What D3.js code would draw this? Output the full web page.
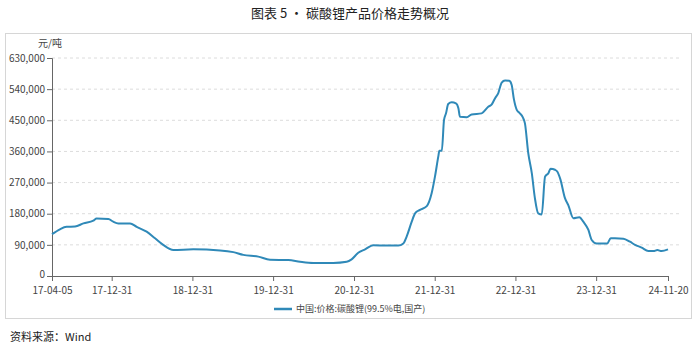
<!DOCTYPE html>
<html>
<head>
<meta charset="utf-8">
<script src="https://cdn.jsdelivr.net/npm/d3@7"></script>
<style>
  body { margin: 0; background: #fff; }
  svg text { font-family: "Noto Sans CJK SC", "Noto Sans", sans-serif; }
</style>
</head>
<body>
<script>
// price of lithium carbonate
var dates = ["2017-04-05","2017-05-11","2017-06-10","2017-07-18","2017-08-25","2017-10-09","2017-10-24","2017-12-16",
  "2018-01-07","2018-01-30","2018-03-24","2018-04-23","2018-06-07","2018-07-15","2018-08-21","2018-10-06",
  "2019-01-04","2019-05-05","2019-07-04","2019-08-18","2019-10-25","2019-12-17","2020-03-09","2020-05-01",
  "2020-06-30","2020-09-28","2020-11-28","2020-12-20","2021-01-19","2021-02-19","2021-03-28","2021-05-28",
  "2021-07-19","2021-08-11","2021-08-26","2021-09-18","2021-10-03","2021-10-25","2021-11-25","2021-12-17",
  "2022-01-01","2022-01-16","2022-01-21","2022-02-01","2022-02-11","2022-02-20","2022-03-02","2022-03-18",
  "2022-04-06","2022-04-17","2022-04-24","2022-05-25","2022-06-16","2022-07-31","2022-08-30","2022-09-15",
  "2022-09-30","2022-10-14","2022-10-30","2022-11-14","2022-12-03","2022-12-14","2022-12-24","2023-01-06",
  "2023-01-17","2023-02-02","2023-02-12","2023-02-27","2023-03-15","2023-03-29","2023-04-13","2023-04-29",
  "2023-05-14","2023-05-29","2023-06-08","2023-06-28","2023-07-08","2023-07-22","2023-08-12","2023-08-27",
  "2023-09-19","2023-10-16","2023-11-03","2023-11-26","2023-12-11","2024-01-02","2024-02-19","2024-03-06",
  "2024-03-25","2024-05-02","2024-06-01","2024-06-24","2024-07-24","2024-08-23","2024-09-15","2024-10-03",
  "2024-10-22","2024-11-20"];
var prices = [121000,135000,142000,143000,152000,160000,166000,165000,
  157000,152000,152000,142000,128000,109000,90000,75000,
  77000,74000,69000,61000,56000,47000,46000,41000,
  37600,37600,41000,48000,67000,77000,89000,88000,
  88000,94000,114000,157000,181000,191000,202000,239000,
  287000,345000,362000,362000,451000,470000,497000,502000,
  499000,485000,460000,459000,467000,470000,489000,496000,
  514000,528000,559000,565000,564000,552000,511000,480000,
  472000,459000,441000,355000,297000,225000,181000,178000,
  287000,297000,310000,307000,302000,280000,225000,205000,
  167000,170000,157000,133000,104000,94000,94000,109000,
  109000,108000,99000,90000,82000,72000,72000,75000,
  72000,77000];
var xTicks = ["2017-04-05","2017-12-31","2018-12-31","2019-12-31","2020-12-31","2021-12-31","2022-12-31","2023-12-31","2024-11-20"];
var yTicks = [0,90000,180000,270000,360000,450000,540000,630000];
var seriesName = "中国:价格:碳酸锂(99.5%电,国产)";

var width = 700, height = 348;
var parse = d3.timeParse("%Y-%m-%d");
var fmtDate = d3.timeFormat("%y-%m-%d");
var data = dates.map(function(d, i) { return { date: parse(d), value: prices[i] }; });

var svg = d3.select("body").append("svg")
    .attr("width", width)
    .attr("height", height);

// title
svg.append("text")
    .attr("x", 350).attr("y", 18)
    .attr("text-anchor", "middle")
    .style("font-size", "13px")
    .style("fill", "#222")
    .text("图表 5 • 碳酸锂产品价格走势概况");

// frame
svg.append("rect")
    .attr("x", 5.5).attr("y", 33.5)
    .attr("width", 686).attr("height", 285)
    .attr("fill", "none")
    .attr("stroke", "#d6d6d6");

var x = d3.scaleTime()
    .domain([parse(xTicks[0]), parse(xTicks[xTicks.length - 1])])
    .range([52, 668]);
var y = d3.scaleLinear()
    .domain([0, 630000])
    .range([276, 58]);

// gridlines
svg.append("g")
    .selectAll("line")
    .data(yTicks.slice(1))
    .enter().append("line")
    .attr("x1", 52).attr("x2", 682)
    .attr("y1", function(d) { return y(d); })
    .attr("y2", function(d) { return y(d); })
    .attr("stroke", "#dcdcdc")
    .attr("stroke-dasharray", "3,3");

var yAxis = svg.append("g")
    .attr("transform", "translate(52,0)")
    .call(d3.axisLeft(y).tickValues(yTicks).tickSize(5).tickPadding(2).tickFormat(d3.format(",")));
var xAxis = svg.append("g")
    .attr("transform", "translate(0,276)")
    .call(d3.axisBottom(x).tickValues(xTicks.map(parse)).tickSize(5).tickPadding(6).tickFormat(fmtDate));

[yAxis, xAxis].forEach(function(ax) {
    ax.select(".domain").attr("stroke", "#666");
    ax.selectAll(".tick line").attr("stroke", "#666");
    ax.selectAll("text").style("font-size", "10px").style("fill", "#444").style("font-family", "\"Noto Sans CJK SC\", sans-serif");
});
// keep the zero label clear of the first date label
yAxis.selectAll(".tick text").filter(function(d) { return d === 0; }).attr("dy", "0.1em");

// unit label
svg.append("text")
    .attr("x", 50).attr("y", 47)
    .attr("text-anchor", "middle")
    .style("font-size", "10px")
    .style("fill", "#444")
    .text("元/吨");

var line = d3.line()
    .x(function(d) { return x(d.date); })
    .y(function(d) { return y(d.value); })
    .curve(d3.curveMonotoneX);

svg.append("path")
    .datum(data)
    .attr("d", line)
    .attr("fill", "none")
    .attr("stroke", "#2f89b8")
    .attr("stroke-width", 2);

// legend
svg.append("line")
    .attr("x1", 274).attr("x2", 292)
    .attr("y1", 309).attr("y2", 309)
    .attr("stroke", "#2f89b8")
    .attr("stroke-width", 2.5);
svg.append("text")
    .attr("x", 296).attr("y", 312)
    .style("font-size", "9px")
    .style("fill", "#444")
    .text(seriesName);

// source
svg.append("text")
    .attr("x", 10).attr("y", 341)
    .style("font-size", "11px")
    .style("fill", "#222")
    .text("资料来源：Wind");
</script>
</body>
</html>
